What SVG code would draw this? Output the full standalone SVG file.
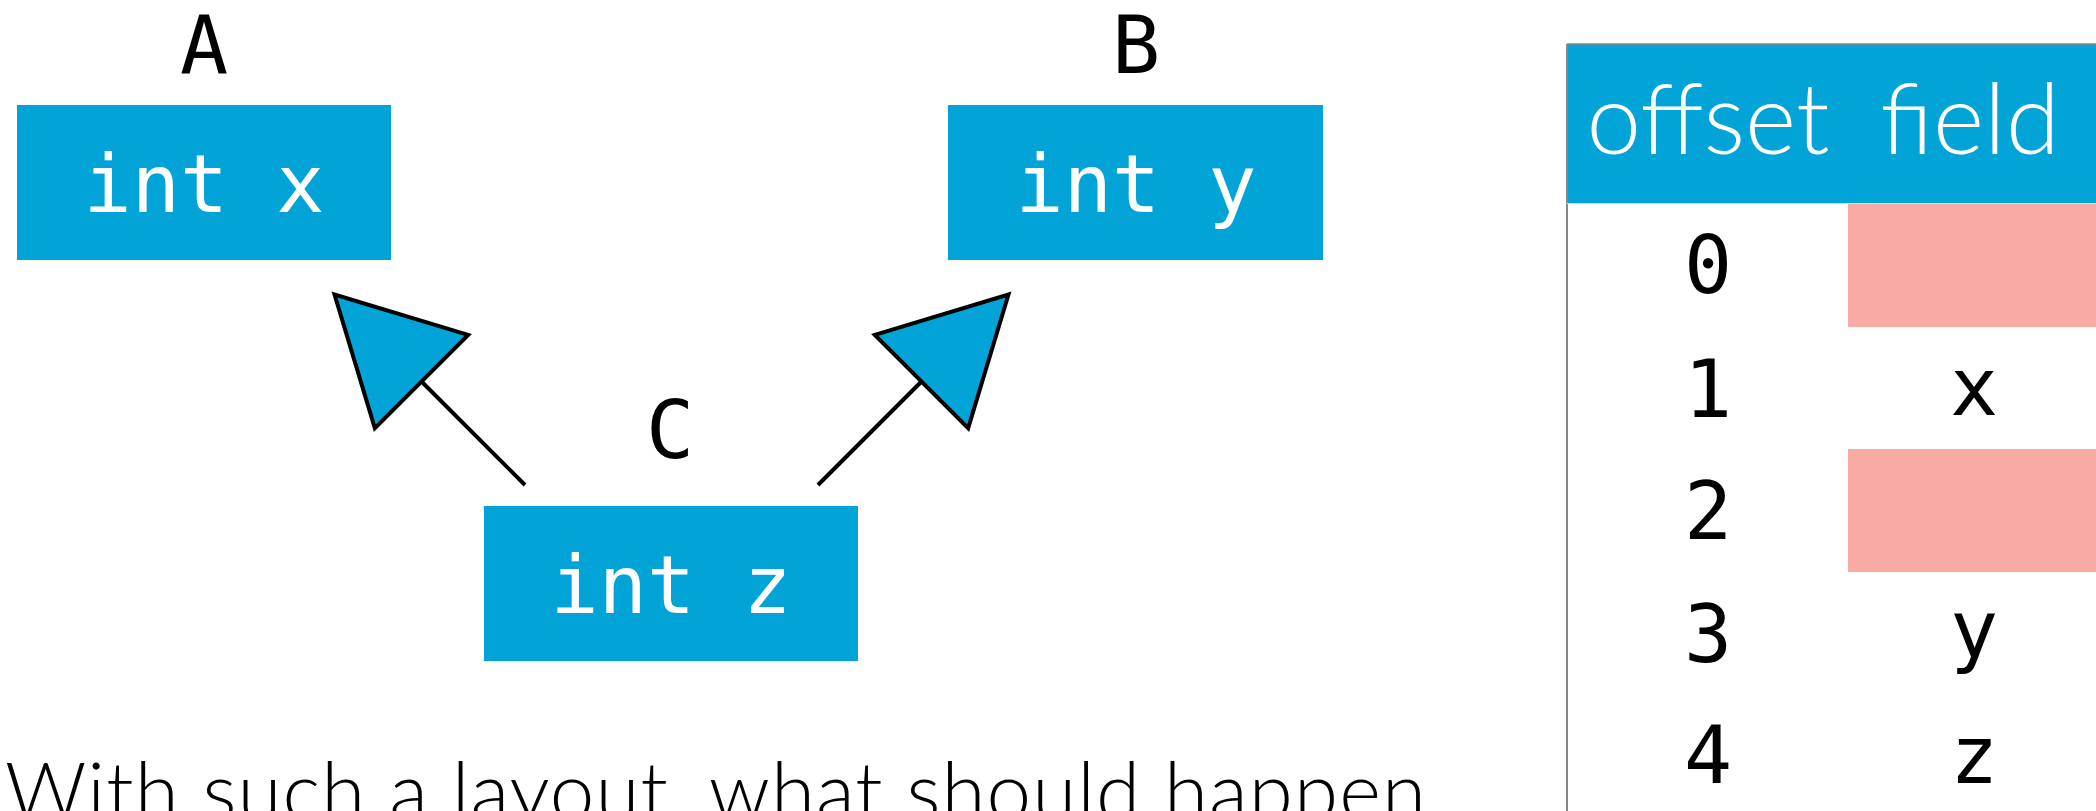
<svg xmlns="http://www.w3.org/2000/svg" width="2096" height="811" viewBox="0 0 2096 811">
<style>
.box{fill:#02A4D8}
.pink{fill:#F9ABA3}
.mono{font-family:"DejaVu Sans Mono","Liberation Mono",monospace;font-size:80px;text-anchor:middle}
.wt{fill:#FFFFFF}
.bk{fill:#000000}
.sans{font-family:Lato,"Open Sans","Liberation Sans",sans-serif;font-weight:300}
.edge{stroke:#000;stroke-width:4;fill:none}
</style>
<defs>
<marker id="tri" markerUnits="userSpaceOnUse" orient="auto" refX="0" refY="0" markerWidth="300" markerHeight="300" overflow="visible">
<polygon points="0,-66 123,0 0,66" fill="#02A4D8" stroke="#000" stroke-width="4" stroke-linejoin="miter"/>
</marker>
</defs>
<rect width="2096" height="811" fill="#FFFFFF"/>

<g id="connectors">
<line class="edge" x1="525" y1="485" x2="421.5" y2="381.5" marker-end="url(#tri)"/>
<line class="edge" x1="818" y1="485" x2="921.5" y2="381.5" marker-end="url(#tri)"/>
</g>

<g id="nodeA">
<text class="mono bk" x="204" y="73">A</text>
<rect class="box" x="17" y="105" width="374" height="155"/>
<text class="mono wt" x="204" y="212">int x</text>
</g>

<g id="nodeB">
<text class="mono bk" x="1136" y="73">B</text>
<rect class="box" x="948" y="105" width="375" height="155"/>
<text class="mono wt" x="1136" y="212">int y</text>
</g>

<g id="nodeC">
<text class="mono bk" x="670" y="458">C</text>
<rect class="box" x="484" y="506" width="374" height="155"/>
<text class="mono wt" x="671" y="613">int z</text>
</g>

<g id="table">
<rect class="box" x="1567" y="44" width="540" height="159"/>
<rect class="pink" x="1848" y="204" width="260" height="123"/>
<rect class="pink" x="1848" y="449" width="260" height="123"/>
<line x1="1567" y1="44" x2="2096" y2="44" stroke="#888" stroke-width="1.5"/>
<line x1="1567" y1="44" x2="1567" y2="811" stroke="#888" stroke-width="2"/>
<line x1="1567" y1="203.5" x2="2096" y2="203.5" stroke="#BFE6F5" stroke-width="1"/>
<text class="sans wt" x="1708" y="154" font-size="98" text-anchor="middle">offset</text>
<text class="sans wt" x="1970" y="154" font-size="98" text-anchor="middle">field</text>
<text class="mono bk" x="1708" y="293">0</text>
<text class="mono bk" x="1708" y="417">1</text>
<text class="mono bk" x="1974" y="415">x</text>
<text class="mono bk" x="1708" y="539">2</text>
<text class="mono bk" x="1708" y="662">3</text>
<text class="mono bk" x="1974" y="657">y</text>
<text class="mono bk" x="1708" y="783">4</text>
<text class="mono bk" x="1974" y="783">z</text>
</g>

<text class="sans bk" x="5" y="820" font-size="80" textLength="1421" lengthAdjust="spacing">With such a layout, what should happen</text>
</svg>
